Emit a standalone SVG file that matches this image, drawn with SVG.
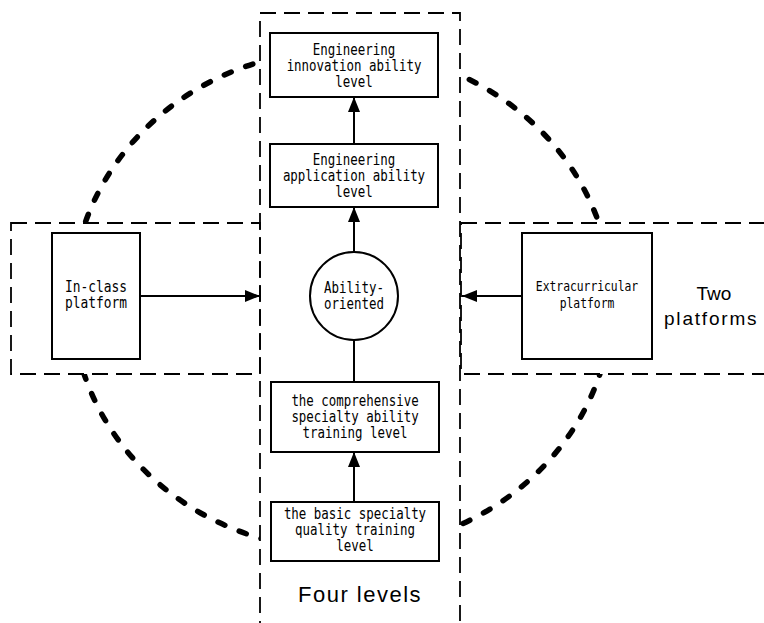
<svg xmlns="http://www.w3.org/2000/svg" width="764" height="623" viewBox="0 0 764 623">
<style>
.frame{fill:none;stroke:#000;stroke-width:1.8;stroke-dasharray:16 8}
.ring{fill:none;stroke:#000;stroke-width:5.5;stroke-linecap:round;stroke-dasharray:7.5 15.5}
.box{fill:#fff;stroke:#000;stroke-width:2}
.line{fill:none;stroke:#000;stroke-width:2}
.t{font-family:"DejaVu Sans Mono","Liberation Mono",monospace;font-size:15px;fill:#000;text-anchor:middle}
.big{font-family:"Liberation Sans",Arial,sans-serif;fill:#000}
</style>
<defs>
<marker id="ah" markerUnits="userSpaceOnUse" markerWidth="16" markerHeight="12" refX="15" refY="6" orient="auto">
<path d="M0,0 L15,6 L0,12 Z" fill="#000"/>
</marker>
<mask id="m">
<rect x="0" y="0" width="764" height="623" fill="#fff"/>
<rect x="260" y="12" width="200" height="640" fill="#000"/>
<rect x="10" y="223" width="250" height="151" fill="#000"/>
<rect x="460" y="223" width="320" height="151" fill="#000"/>
</mask>
</defs>
<g id="ring">
<ellipse class="ring" cx="342" cy="300" rx="270" ry="250" mask="url(#m)"/>
</g>
<g id="frames">
<rect id="four-levels-frame" class="frame" x="260" y="13" width="200" height="640"/>
<rect id="left-frame" class="frame" x="11" y="223" width="249" height="151"/>
<rect id="right-frame" class="frame" x="461" y="223" width="330" height="151"/>
</g>
<g id="connectors">
<line class="line" x1="354" y1="144" x2="354" y2="97" marker-end="url(#ah)"/>
<line class="line" x1="354" y1="252" x2="354" y2="207" marker-end="url(#ah)"/>
<line class="line" x1="354" y1="340" x2="354" y2="382"/>
<line class="line" x1="354" y1="502" x2="354" y2="452" marker-end="url(#ah)"/>
<line class="line" x1="140" y1="296" x2="260" y2="296" marker-end="url(#ah)"/>
<line class="line" x1="522" y1="296" x2="462" y2="296" marker-end="url(#ah)"/>
</g>
<g id="n-innovation">
<rect class="box" x="270" y="33" width="168" height="64"/>
<text class="t" transform="translate(354,0) scale(0.83,1)"><tspan x="0" y="55">Engineering</tspan><tspan x="0" y="71">innovation ability</tspan><tspan x="0" y="87">level</tspan></text>
</g>
<g id="n-application">
<rect class="box" x="270" y="144" width="168" height="63"/>
<text class="t" transform="translate(354,0) scale(0.83,1)"><tspan x="0" y="165">Engineering</tspan><tspan x="0" y="181">application ability</tspan><tspan x="0" y="197">level</tspan></text>
</g>
<g id="n-ability">
<circle class="box" cx="354" cy="296" r="44"/>
<text class="t" transform="translate(354,0) scale(0.83,1)"><tspan x="0" y="293">Ability-</tspan><tspan x="0" y="309">oriented</tspan></text>
</g>
<g id="n-comprehensive">
<rect class="box" x="271" y="382" width="168" height="70"/>
<text class="t" transform="translate(355,0) scale(0.83,1)"><tspan x="0" y="406">the comprehensive</tspan><tspan x="0" y="422">specialty ability</tspan><tspan x="0" y="438">training level</tspan></text>
</g>
<g id="n-basic">
<rect class="box" x="271" y="502" width="168" height="59"/>
<text class="t" transform="translate(355,0) scale(0.83,1)"><tspan x="0" y="519">the basic specialty</tspan><tspan x="0" y="535">quality training</tspan><tspan x="0" y="551">level</tspan></text>
</g>
<g id="n-inclass">
<rect class="box" x="52" y="233" width="88" height="126"/>
<text class="t" transform="translate(96,0) scale(0.86,1)"><tspan x="0" y="292">In-class</tspan><tspan x="0" y="308">platform</tspan></text>
</g>
<g id="n-extra">
<rect class="box" x="522" y="233" width="130" height="126"/>
<text class="t" style="font-size:14px" transform="translate(587,0) scale(0.81,1)"><tspan x="0" y="291">Extracurricular</tspan><tspan x="0" y="308">platform</tspan></text>
</g>
<g id="labels">
<text class="big" x="298" y="602" font-size="22" letter-spacing="1.5">Four levels</text>
<text class="big" x="714" y="300" font-size="19" text-anchor="middle">Two</text>
<text class="big" x="664" y="325" font-size="19" letter-spacing="1.8">platforms</text>
</g>
</svg>
